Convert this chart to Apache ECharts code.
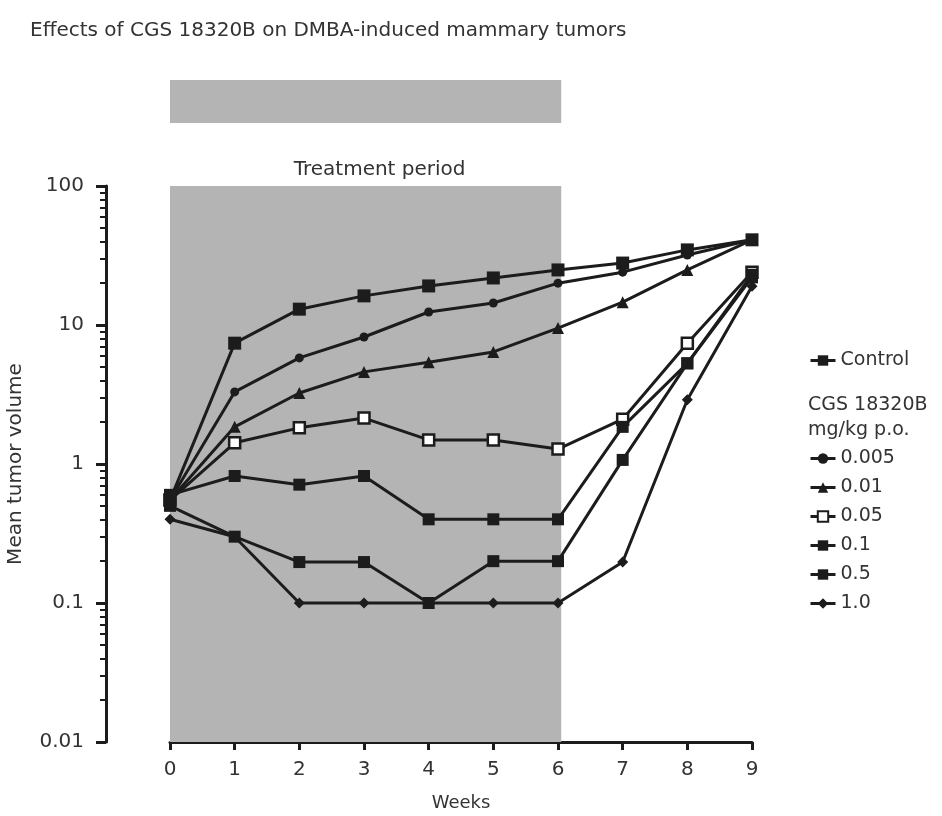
<!DOCTYPE html>
<html>
<head>
<meta charset="utf-8">
<script src="https://cdn.jsdelivr.net/npm/echarts@6/dist/echarts.min.js"></script>
<style>
html,body{margin:0;padding:0;background:#fff;}
#chart{width:942px;height:816px;}
</style>
</head>
<body>
<div id="chart"></div>
<script>
const weeks = [0, 1, 2, 3, 4, 5, 6, 7, 8, 9];
const seriesNames = ['Control', '0.005', '0.01', '0.05', '0.1', '0.5', '1.0'];
const control = [0.55, 7.4, 13.0, 16.2, 19.1, 21.8, 24.9, 27.9, 34.7, 41];
const dose0005 = [0.55, 3.3, 5.8, 8.2, 12.4, 14.4, 20.0, 24.0, 31.9, 41];
const dose001 = [0.55, 1.85, 3.24, 4.6, 5.4, 6.4, 9.5, 14.6, 24.9, 41];
const dose005 = [0.55, 1.42, 1.82, 2.14, 1.49, 1.49, 1.28, 2.1, 7.4, 24];
const dose01 = [0.6, 0.82, 0.71, 0.82, 0.40, 0.40, 0.40, 1.85, 5.3, 22];
const dose05 = [0.5, 0.30, 0.197, 0.197, 0.10, 0.20, 0.20, 1.07, 5.3, 23];
const dose10 = [0.4, 0.30, 0.10, 0.10, 0.10, 0.10, 0.10, 0.197, 2.9, 19];
const treatmentWeeks = [0, 6.05];
const yTicks = [0.01, 0.1, 1, 10, 100];

const FONT = '"DejaVu Sans", "Liberation Sans", sans-serif';
const LINE = '#1c1c1c';
const TEXT = '#333333';
const FS = 20;

function pairs(vals) { return weeks.map((w, i) => [w, vals[i]]); }

const styles = {
  'Control': {symbol: 'rect', symbolSize: 13, fill: LINE},
  '0.005': {symbol: 'circle', symbolSize: 9, fill: LINE},
  '0.01': {symbol: 'triangle', symbolSize: 12, fill: LINE},
  '0.05': {symbol: 'rect', symbolSize: 11, fill: '#ffffff'},
  '0.1': {symbol: 'rect', symbolSize: 12, fill: LINE},
  '0.5': {symbol: 'rect', symbolSize: 12, fill: LINE},
  '1.0': {symbol: 'diamond', symbolSize: 11, fill: LINE}
};
const values = [control, dose0005, dose001, dose005, dose01, dose05, dose10];

const dataSeries = seriesNames.map((name, i) => ({
  name: name,
  type: 'line',
  xAxisIndex: 0,
  yAxisIndex: 0,
  data: pairs(values[i]),
  symbol: styles[name].symbol,
  symbolSize: styles[name].symbolSize,
  showSymbol: true,
  lineStyle: {color: LINE, width: 3},
  itemStyle: {color: styles[name].fill, borderColor: LINE, borderWidth: name === '0.05' ? 2.5 : 0},
  z: 5,
  animation: false
}));

const legendCommon = {
  orient: 'vertical', left: 804, itemWidth: 25, itemHeight: 13,
  lineStyle: {width: 3, color: LINE},
  textStyle: {fontFamily: FONT, fontSize: FS - 1, color: TEXT}
};

const option = {
  animation: false,
  backgroundColor: '#ffffff',
  title: [
    {text: 'Effects of CGS 18320B on DMBA-induced mammary tumors', left: 25, top: 16,
     textStyle: {fontFamily: FONT, fontSize: FS, fontWeight: 'normal', color: TEXT}},
    {text: 'CGS 18320B\nmg/kg p.o.', left: 803, top: 388,
     textStyle: {fontFamily: FONT, fontSize: FS - 1, fontWeight: 'normal', color: TEXT, lineHeight: 25}}
  ],
  legend: [
    Object.assign({data: ['Control'], top: 346}, legendCommon),
    Object.assign({data: seriesNames.slice(1), top: 444, itemGap: 10}, legendCommon)
  ],
  grid: [
    {left: 170, right: 190, top: 186, bottom: 74, outerBoundsMode: 'none', containLabel: false},
    {left: 170, right: 190, top: 80, height: 43, outerBoundsMode: 'none', containLabel: false}
  ],
  xAxis: [
    {type: 'value', gridIndex: 0, min: 0, max: 9, interval: 1,
     name: 'Weeks', nameLocation: 'middle', nameGap: 52,
     nameTextStyle: {fontFamily: FONT, fontSize: FS - 2, color: TEXT},
     axisLine: {show: true, onZero: false, lineStyle: {color: LINE, width: 3}},
     axisTick: {show: true, length: 8, lineStyle: {color: LINE, width: 3}},
     axisLabel: {fontFamily: FONT, fontSize: FS, color: TEXT, margin: 18},
     splitLine: {show: false}},
    {type: 'value', gridIndex: 1, min: 0, max: 9, show: false}
  ],
  yAxis: [
    {type: 'log', gridIndex: 0, min: 0.01, max: 100, logBase: 10, offset: 64,
     name: 'Mean tumor volume', nameLocation: 'middle', nameGap: 80, nameRotate: 90,
     nameTextStyle: {fontFamily: FONT, fontSize: FS, color: TEXT},
     axisLine: {show: true, onZero: false, lineStyle: {color: LINE, width: 3}},
     axisTick: {show: true, length: 10, lineStyle: {color: LINE, width: 3}},
     minorTick: {show: true, splitNumber: 9, length: 6, lineStyle: {color: LINE, width: 2}},
     axisLabel: {fontFamily: FONT, fontSize: FS, color: TEXT, margin: 22,
       formatter: v => { const t = yTicks.find(x => Math.abs(Math.log10(x) - Math.log10(v)) < 1e-6); return t === undefined ? '' : String(t); }},
     splitLine: {show: false}},
    {type: 'value', gridIndex: 1, min: 0, max: 1, show: false}
  ],
  series: [
    {name: 'treatment', type: 'line', xAxisIndex: 0, yAxisIndex: 0, data: [], silent: true,
     markArea: {silent: true, itemStyle: {color: '#b4b4b4'},
       label: {show: true, position: 'top', distance: 6, offset: [14, 0], formatter: 'Treatment period',
               fontFamily: FONT, fontSize: FS, color: TEXT},
       data: [[{xAxis: treatmentWeeks[0]}, {xAxis: treatmentWeeks[1]}]]}},
    {name: 'treatmentBar', type: 'line', xAxisIndex: 1, yAxisIndex: 1, data: [], silent: true,
     markArea: {silent: true, itemStyle: {color: '#b4b4b4'}, label: {show: false},
       data: [[{xAxis: treatmentWeeks[0]}, {xAxis: treatmentWeeks[1]}]]}}
  ].concat(dataSeries)
};

const chart = echarts.init(document.getElementById('chart'), null, {renderer: 'canvas'});
chart.setOption(option);
</script>
</body>
</html>
